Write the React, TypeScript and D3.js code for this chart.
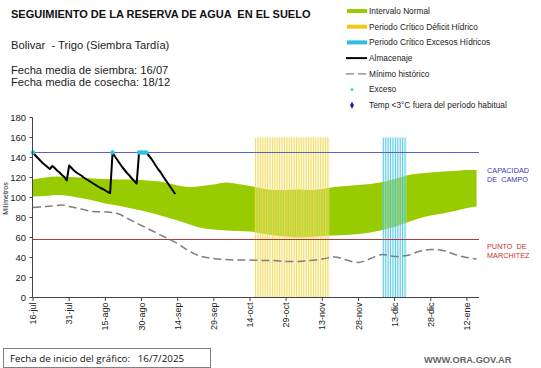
import * as d3 from "d3";
import { useEffect, useRef } from "react";

// fechas del eje X (cada 15 días desde el 16-jul)
const tickDays = [0, 15, 30, 45, 60, 75, 90, 105, 120, 135, 150, 165, 180];
const tickLabels = ["16-jul", "31-jul", "15-ago", "30-ago", "14-sep", "29-sep", "14-oct", "29-oct", "13-nov", "28-nov", "13-dic", "28-dic", "12-ene"];
const yTicks = [0, 20, 40, 60, 80, 100, 120, 140, 160, 180];

// intervalo normal (banda verde)
const bandDays = [0, 5, 10, 15, 20, 25, 30, 35, 40, 45, 50, 55, 60, 65, 70, 75, 80, 85, 90, 95, 100, 105, 110, 115, 120, 125, 130, 135, 140, 145, 150, 155, 160, 165, 170, 175, 180, 184];
const bandUpper = [118, 120, 121, 120.5, 120, 119, 118.5, 118, 118, 117.5, 116.5, 115, 112, 110.5, 111.5, 113, 115, 113.5, 111.5, 109, 107.5, 107.5, 108, 107.5, 108.5, 110.5, 111.5, 112.5, 113.5, 115.5, 118.5, 122, 124, 125, 126, 126.5, 127.5, 127.5];
const bandLower = [101, 101.5, 102.5, 101.5, 99.5, 97, 94, 92, 89.5, 87, 84, 80.5, 77, 73, 69.5, 68, 67, 66.5, 66, 64, 62, 61, 60, 60.5, 61.5, 62, 62.5, 63.5, 65, 67.5, 70.5, 75, 79, 82, 84, 86.5, 89.5, 91];

// mínimo histórico
const minDays = [0, 5, 10, 12, 15, 20, 25, 30, 33, 35, 40, 45, 50, 55, 60, 65, 70, 75, 80, 85, 90, 95, 100, 105, 110, 115, 120, 125, 130, 135, 140, 145, 150, 155, 160, 165, 170, 175, 180, 184];
const minValues = [90, 91, 92, 92.5, 91, 88.5, 86, 85.5, 85, 84, 78, 72, 66, 60, 54, 46, 41, 39, 38, 37.5, 37.5, 37, 37, 36, 36, 37, 38.5, 40.5, 37.5, 35, 39, 43, 41, 42, 46, 48, 47, 43, 40, 38.5];

// almacenaje diario desde el 16-jul
const almValues = [145, 142, 139.5, 137, 134.5, 132.5, 130.5, 128.5, 131.5, 129.5, 127, 125, 122.5, 120.5, 117, 132, 129.5, 127, 125, 123.5, 122, 120, 118.5, 117, 115.5, 114, 112.5, 111, 109.5, 108.5, 107, 105.5, 104.5, 145, 141, 137.5, 134, 130.5, 127.5, 124.5, 122, 119, 116.5, 114, 145, 145, 145, 145, 142, 139, 135.5, 131.5, 128, 125, 121, 117.5, 114, 110.5, 107, 103.5];
const excesoDays = [0, 33, 44, 45, 46, 47];

// periodos críticos
const deficitDays = [92, 93, 94, 95, 96, 97, 98, 99, 100, 101, 102, 103, 104, 105, 106, 107, 108, 109, 110, 111, 112, 113, 114, 115, 116, 117, 118, 119, 120, 121, 122];
const excesoPeriodDays = [145, 146, 147, 148, 149, 150, 151, 152, 153, 154];
const periodValue = 160;

const capacidadCampo = 145;
const puntoMarchitez = 58;

const legendItems = [
  { label: "Intervalo Normal", kind: "band", color: "#99cc00" },
  { label: "Periodo Crítico Déficit Hídrico", kind: "band", color: "#f2c81c" },
  { label: "Periodo Crítico Excesos Hídricos", kind: "band", color: "#2ebfe0" },
  { label: "Almacenaje", kind: "line", color: "#000" },
  { label: "Mínimo histórico", kind: "dash", color: "#808080" },
  { label: "Exceso", kind: "dot", color: "#2ebfe0" },
  { label: "Temp <3°C fuera del período habitual", kind: "diamond", color: "#1a1a9a" },
];

const FONT = "'Liberation Sans', Arial, sans-serif";

export default function App() {
  const svgRef = useRef<SVGSVGElement | null>(null);

  useEffect(() => {
    const svg = d3.select(svgRef.current);
    svg.selectAll("*").remove();

    const x = d3.scaleLinear().domain([0, 185]).range([33, 479]);
    const y = d3.scaleLinear().domain([0, 180]).range([297.5, 117.5]);

    // titulos
    svg.append("text").attr("x", 11).attr("y", 18).style("font-family", FONT).style("font-weight", "bold").style("font-size", "11px").attr("fill", "#111")
      .text("SEGUIMIENTO DE LA RESERVA DE AGUA  EN EL SUELO");
    svg.append("text").attr("x", 11).attr("y", 48.5).style("font-family", FONT).style("font-size", "11.2px").attr("fill", "#222")
      .text("Bolivar  - Trigo (Siembra Tardía)");
    svg.append("text").attr("x", 11).attr("y", 74).style("font-family", FONT).style("font-size", "11.2px").attr("fill", "#222")
      .text("Fecha media de siembra: 16/07");
    svg.append("text").attr("x", 11).attr("y", 86).style("font-family", FONT).style("font-size", "11.2px").attr("fill", "#222")
      .text("Fecha media de cosecha: 18/12");

    // leyenda
    const lg = svg.append("g");
    legendItems.forEach((it, i) => {
      const ly = 11 + i * 15.7;
      const g = lg.append("g").attr("transform", `translate(0,${ly})`);
      if (it.kind === "band") {
        g.append("rect").attr("x", 347).attr("y", -2).attr("width", 20).attr("height", 4).attr("fill", it.color);
      } else if (it.kind === "line") {
        g.append("line").attr("x1", 346).attr("x2", 367).attr("y1", 0).attr("y2", 0).attr("stroke", it.color).attr("stroke-width", 2);
      } else if (it.kind === "dash") {
        g.append("line").attr("x1", 346).attr("x2", 367).attr("y1", 0).attr("y2", 0).attr("stroke", it.color).attr("stroke-width", 1.2).attr("stroke-dasharray", "8,4");
      } else if (it.kind === "dot") {
        g.append("circle").attr("cx", 352).attr("cy", 0).attr("r", 1.3).attr("fill", it.color);
      } else {
        g.append("path").attr("d", d3.symbol(d3.symbolDiamond, 14)()).attr("transform", "translate(352,0)").attr("fill", it.color);
      }
      g.append("text").attr("x", 369).attr("y", 2.8)
        .style("font-family", FONT).style("font-size", "8.3px").attr("fill", "#222").text(it.label);
    });

    const plot = svg.append("g");

    // banda intervalo normal
    const bandData = bandDays.map((d, i) => ({ d, hi: bandUpper[i], lo: bandLower[i] }));
    const area = d3.area<{ d: number; hi: number; lo: number }>()
      .x((p) => x(p.d)).y0((p) => y(p.lo)).y1((p) => y(p.hi)).curve(d3.curveMonotoneX);
    plot.append("path").datum(bandData).attr("d", area).attr("fill", "#99cc00");

    // periodos críticos (una columna por día)
    const barW = x(1) - x(0);
    const bars = (days: number[], fill: string, stroke: string) => {
      const g = plot.append("g");
      g.selectAll("rect.f").data(days).join("rect").attr("class", "f")
        .attr("x", (d) => x(d)).attr("width", barW).attr("y", y(periodValue)).attr("height", y(0) - y(periodValue))
        .attr("fill", fill).attr("opacity", 0.4);
      g.selectAll("rect.s").data(days).join("rect").attr("class", "s")
        .attr("x", (d) => x(d) + 0.3).attr("width", 0.9).attr("y", y(periodValue)).attr("height", y(0) - y(periodValue))
        .attr("fill", stroke).attr("opacity", 0.85);
    };
    bars(deficitDays, "#f8ec9a", "#efd84e");
    bars(excesoPeriodDays, "#bfeaf5", "#30bde0");

    // capacidad de campo / punto de marchitez
    plot.append("line").attr("x1", x(0)).attr("x2", x(185)).attr("y1", y(capacidadCampo)).attr("y2", y(capacidadCampo)).attr("stroke", "#5a64c0").attr("stroke-width", 1);
    plot.append("line").attr("x1", x(0)).attr("x2", x(185)).attr("y1", y(puntoMarchitez)).attr("y2", y(puntoMarchitez)).attr("stroke", "#b33a3a").attr("stroke-width", 1);

    // mínimo histórico
    const line = d3.line<[number, number]>().x((p) => x(p[0])).y((p) => y(p[1])).curve(d3.curveMonotoneX);
    plot.append("path").datum(minDays.map((d, i) => [d, minValues[i]] as [number, number]))
      .attr("d", line).attr("fill", "none").attr("stroke", "#7f7f7f").attr("stroke-width", 1.5).attr("stroke-dasharray", "8,4");

    // almacenaje
    const lineAlm = d3.line<number>().x((_, i) => x(i)).y((v) => y(v));
    plot.append("path").datum(almValues).attr("d", lineAlm).attr("fill", "none").attr("stroke", "#000").attr("stroke-width", 2).attr("stroke-linejoin", "round");

    plot.selectAll("circle.exc").data(excesoDays).join("circle").attr("class", "exc")
      .attr("cx", (d) => x(d)).attr("cy", (d) => y(almValues[d])).attr("r", 2.2).attr("fill", "#2ebfe0");

    // ejes
    const ax = svg.append("g").attr("stroke", "#444");
    ax.append("line").attr("x1", 32.5).attr("x2", 32.5).attr("y1", y(180)).attr("y2", y(0)).attr("stroke-width", 1);
    ax.append("line").attr("x1", 32.5).attr("x2", x(185)).attr("y1", y(0)).attr("y2", y(0)).attr("stroke-width", 1);

    yTicks.forEach((t) => {
      svg.append("line").attr("x1", 29.5).attr("x2", 32.5).attr("y1", y(t)).attr("y2", y(t)).attr("stroke", "#444");
      svg.append("text").attr("x", 26).attr("y", y(t)).attr("dy", "0.35em").attr("text-anchor", "end")
        .style("font-family", FONT).style("font-size", "9.5px").attr("fill", "#222").text(String(t));
    });
    svg.append("text").attr("transform", `translate(8,${y(99)}) rotate(-90)`).attr("text-anchor", "middle")
      .style("font-family", FONT).style("font-size", "7px").attr("fill", "#222").text("Milímetros");

    tickDays.forEach((d, i) => {
      svg.append("line").attr("x1", x(d)).attr("x2", x(d)).attr("y1", y(0)).attr("y2", y(0) + 3.5).attr("stroke", "#444");
      svg.append("text").attr("transform", `translate(${x(d)},${y(0) + 5}) rotate(-90)`).attr("dy", "0.35em").attr("text-anchor", "end")
        .style("font-family", FONT).style("font-size", "9px").attr("fill", "#222").text(tickLabels[i]);
    });

    // rotulos derechos
    const rl = (t: string, yy: number, c: string) =>
      svg.append("text").attr("x", 487).attr("y", yy).style("font-family", FONT).style("font-size", "7.3px").attr("fill", c).text(t);
    rl("CAPACIDAD", 173, "#3c3cb4");
    rl("DE  CAMPO", 181.5, "#3c3cb4");
    rl("PUNTO  DE", 249, "#c83030");
    rl("MARCHITEZ", 257.5, "#c83030");

    // pie
    svg.append("rect").attr("x", 3.5).attr("y", 348.5).attr("width", 207).attr("height", 19).attr("fill", "#fff").attr("stroke", "#808080");
    svg.append("text").attr("x", 10).attr("y", 361.5).style("font-family", "'Open Sans', 'Noto Sans', sans-serif").style("font-size", "9.8px").attr("fill", "#111")
      .text("Fecha de inicio del gráfico:   16/7/2025");
    svg.append("text").attr("x", 424).attr("y", 362.5).style("font-family", FONT).style("font-weight", "bold").style("font-size", "9.3px").attr("fill", "#666")
      .text("WWW.ORA.GOV.AR");

    svg.selectAll("text").style("white-space", "pre");
  }, []);

  return (
    <svg
      ref={svgRef}
      width={541}
      height={368}
      viewBox="0 0 541 368"
      style={{ position: "absolute", left: 0, top: 0, background: "#fff" }}
    />
  );
}
